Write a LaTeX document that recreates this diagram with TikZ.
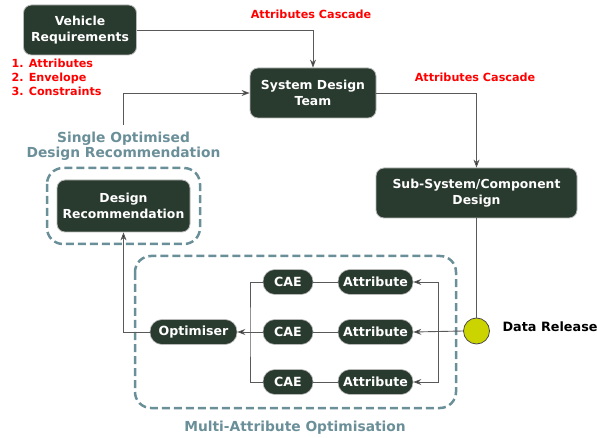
\documentclass[tikz,border=0pt]{standalone}
\usepackage{fontspec}
\setmainfont{DejaVu Sans}
\usepackage{tikz}
\usetikzlibrary{arrows.meta}
\definecolor{boxgreen}{RGB}{41,58,47}
\definecolor{dashblue}{RGB}{106,143,153}
\definecolor{relyellow}{RGB}{204,212,0}

\tikzset{
  bigbox/.style={draw=gray!55, line width=0.8pt, fill=boxgreen, text=white, rounded corners=8pt,
    align=center, inner sep=0pt, minimum height=50pt, font=\fontsize{12.4}{16}\selectfont\bfseries},
  pill/.style={draw=gray!55, line width=0.6pt, fill=boxgreen, text=white, rounded corners=12pt,
    inner sep=0pt, minimum height=25pt, font=\fontsize{12.6}{14}\selectfont\bfseries},
  redtxt/.style={text=red, font=\fontsize{11.2}{14}\selectfont\bfseries},
  grouptxt/.style={text=dashblue, align=center, font=\fontsize{13.8}{15}\selectfont\bfseries},
  groupbox/.style={draw=dashblue, line width=2.5pt, dash pattern=on 8pt off 4pt, rounded corners=16pt},
  link/.style={draw=black!65, line width=0.9pt},
  arr/.style={link, -{Stealth[length=8pt,width=6pt,inset=2.5pt,fill=black]}},
}

\begin{document}
\begin{tikzpicture}[x=1pt,y=-1pt]
					\useasboundingbox (0,0) rectangle (597,438);

					\coordinate (VR) at (80,30);
					\coordinate (SD) at (313,93);
					\coordinate (SS) at (476.5,193);
					\coordinate (DR) at (123.5,206);
					\coordinate (OP) at (193.5,332);
					\coordinate (T) at (0,282);
					\coordinate (M) at (0,332);
					\coordinate (B) at (0,382);

					% group frames
					\draw[groupbox] (47,168) rectangle (200,244);
					\draw[groupbox] (135,256) rectangle (456,408);

					\node[bigbox, minimum width=113pt] (veh) at (VR) {Vehicle\\Requirements};
					\node[bigbox, minimum width=126pt] (sys) at (SD) {System Design\\Team};
					\node[bigbox, minimum width=201pt] (sub) at (SS) {Sub-System/Component\\Design};
					\node[bigbox, minimum width=133pt, minimum height=52pt] (rec) at (DR) {Design\\Recommendation};

					\node[pill, minimum width=87pt] (opt) at (OP) {Optimiser};
					\node[pill, minimum width=50pt] (cae1) at (T -| 288,0) {CAE};
					\node[pill, minimum width=50pt] (cae2) at (M -| 288,0) {CAE};
					\node[pill, minimum width=50pt] (cae3) at (B -| 288,0) {CAE};
					\node[pill, minimum width=75pt] (att1) at (T -| 375.5,0) {Attribute};
					\node[pill, minimum width=75pt] (att2) at (M -| 375.5,0) {Attribute};
					\node[pill, minimum width=75pt] (att3) at (B -| 375.5,0) {Attribute};

					\node[circle, draw=black!70, line width=0.8pt, fill=relyellow, minimum size=26pt, inner sep=0pt] (rel) at (476.5,331) {};
					\node[anchor=west, font=\fontsize{12.8}{14}\selectfont\bfseries] (rellbl) at (499,327) {Data Release};

					\node[redtxt] (casc1) at (311,14) {Attributes Cascade};
					\node[redtxt] (casc2) at (475,77) {Attributes Cascade};
					\node[redtxt, anchor=north west, align=left] (list) at (8,55) {1. Attributes\\2. Envelope\\3. Constraints};

					\node[grouptxt] (single) at (123.5,146) {Single Optimised\\Design Recommendation};
					\node[grouptxt] (multi) at (295,428) {Multi-Attribute Optimisation};

					% connectors
					\draw[arr] (veh.east) -| (sys.north);
					\draw[arr] (sys.east) -| (sub.north);
					\draw[link] (sub.south) -- (rel.north);
					\coordinate (split) at (438,331);
					\draw[arr] (rel.west) -- (att2.east);
					\draw[arr] (split) |- (att1.east);
					\draw[arr] (split) |- (att3.east);
					\draw[link] (att1.west) -- (cae1.east);
					\draw[link] (att2.west) -- (cae2.east);
					\draw[link] (att3.west) -- (cae3.east);
					\coordinate (join) at (250,332);
					\draw[link] (cae1.west) -| (join) |- (cae3.west);
					\draw[arr] (cae2.west) -- (opt.east);
					\draw[arr] (opt.west) -| (rec.south);
					\draw[arr] (single.north) ++(0,-3) |- (sys.west);
				\end{tikzpicture}
\end{document}
